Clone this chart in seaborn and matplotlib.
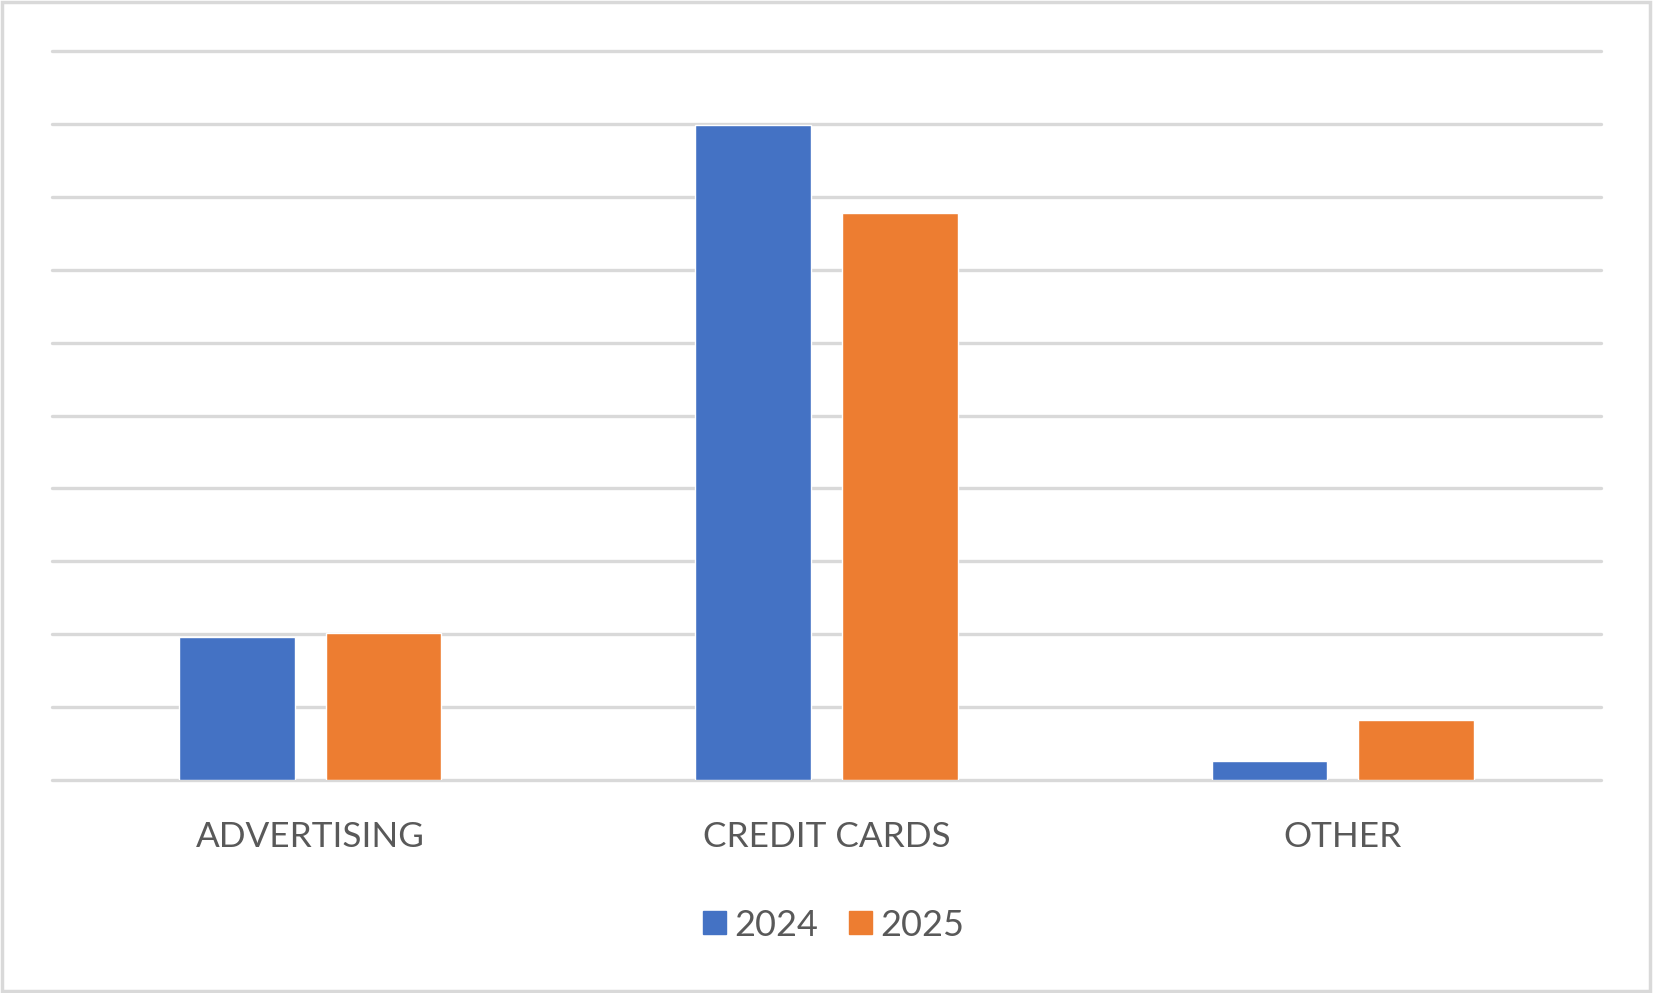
import pandas as pd
import matplotlib.pyplot as plt
import seaborn as sns

# chart values (no axis labels shown in the original, read in gridline units)
categories = ['ADVERTISING', 'CREDIT CARDS', 'OTHER']
years = ['2024', '2025']
values_2024 = [1.96, 8.98, 0.26]
values_2025 = [2.01, 7.78, 0.82]

df = pd.DataFrame({
    'category': categories * 2,
    'year': [years[0]] * 3 + [years[1]] * 3,
    'value': values_2024 + values_2025,
})

sns.set_style('white')
plt.rcParams['font.family'] = ['Lato', 'DejaVu Sans']

fig = plt.figure(figsize=(16.53, 9.93), dpi=100)
ax = fig.add_axes([52 / 1653, 1 - 780 / 993, (1601 - 52) / 1653, (780 - 51) / 993])

sns.barplot(data=df, x='category', y='value', hue='year',
            palette=['#4472c4', '#ed7d31'], width=0.567, gap=0.21,
            saturation=1, ax=ax, legend=False)

ax.set_xlim(-0.5, 2.5)
ax.set_ylim(0, 10)
ax.set_yticks(range(0, 11))
ax.yaxis.grid(True, color='#d9d9d9', linewidth=2.4)
for g in ax.yaxis.get_gridlines():
    g.set_clip_on(False)
ax.set_axisbelow(True)
ax.tick_params(axis='y', left=False, labelleft=False)
ax.tick_params(axis='x', bottom=False, labelsize=25.3, labelcolor='#595959', pad=26)
ax.set_xlabel('')
ax.set_ylabel('')
for s in ax.spines.values():
    s.set_visible(False)

# legend
handles = [plt.Rectangle((0, 0), 1, 1, color=c) for c in ['#4472c4', '#ed7d31']]
fig.legend(handles, years, loc='center', bbox_to_anchor=(834 / 1653, 1 - 925 / 993),
           ncol=2, frameon=False, fontsize=26, labelcolor='#595959',
           handlelength=0.62, handleheight=0.62, handletextpad=0.25, columnspacing=0.85)

# outer border like the spreadsheet chart frame
fig.add_artist(plt.Rectangle((0.001, 0.002), 0.997, 0.996, transform=fig.transFigure,
                             fill=False, edgecolor='#d9d9d9', linewidth=2.5))

fig.savefig('out.png', dpi=100)
